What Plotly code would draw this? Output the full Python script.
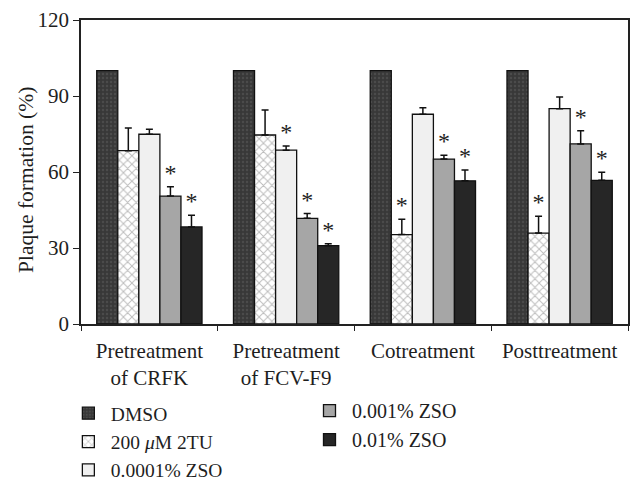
import plotly.graph_objects as go

categories = ["Pretreatment<br>of CRFK", "Pretreatment<br>of FCV-F9", "Cotreatment", "Posttreatment"]
series_names = ["DMSO", "200 <i>μ</i>M 2TU", "0.0001% ZSO", "0.001% ZSO", "0.01% ZSO"]
y_title = "Plaque formation (%)"

dmso = [100, 100, 100, 100]
tu2 = [68.4, 74.6, 35.3, 35.9]
zso_0001 = [74.9, 68.6, 82.8, 85.0]
zso_001 = [50.5, 41.7, 65.1, 71.1]
zso_01 = [38.3, 30.9, 56.5, 56.7]

dmso_err = [0, 0, 0, 0]
tu2_err = [9.0, 9.9, 6.0, 6.6]
zso_0001_err = [2.0, 1.7, 2.6, 4.6]
zso_001_err = [3.7, 1.9, 1.5, 5.2]
zso_01_err = [4.6, 0.8, 4.3, 3.2]

# significance markers (1 = asterisk)
dmso_sig = [0, 0, 0, 0]
tu2_sig = [0, 0, 1, 1]
zso_0001_sig = [0, 1, 0, 0]
zso_001_sig = [1, 1, 1, 1]
zso_01_sig = [1, 1, 1, 1]

values = [dmso, tu2, zso_0001, zso_001, zso_01]
errors = [dmso_err, tu2_err, zso_0001_err, zso_001_err, zso_01_err]
sigs = [dmso_sig, tu2_sig, zso_0001_sig, zso_001_sig, zso_01_sig]

styles = [
    dict(color="#383838", pattern=dict(shape=".", fgcolor="#5e5e5e", bgcolor="#383838", size=4, solidity=0.3)),
    dict(color="white", pattern=dict(shape="x", fgcolor="#7a7a7a", bgcolor="white", size=6, solidity=0.3)),
    dict(color="#f0f0f0"),
    dict(color="#a6a6a6"),
    dict(color="#262626"),
]
legend_ids = ["legend", "legend", "legend", "legend2", "legend2"]

FONT = "Liberation Serif"
TXT = "#1e1e1e"
fig = go.Figure()

for i, name in enumerate(series_names):
    st = styles[i]
    marker = dict(color=st["color"], line=dict(color="#111", width=1.3))
    if "pattern" in st:
        marker["pattern"] = st["pattern"]
    fig.add_trace(go.Bar(
        x=categories, y=values[i], name=name, marker=marker,
        offsetgroup=str(i), legend=legend_ids[i],
        error_y=dict(type="data", array=errors[i], arrayminus=[0]*4, symmetric=False,
                     color="#111", thickness=1.5, width=3.5, visible=any(e > 0 for e in errors[i])),
    ))

for i, name in enumerate(series_names):
    ys = [v + e if s else None for v, e, s in zip(values[i], errors[i], sigs[i])]
    fig.add_trace(go.Scatter(
        x=categories, y=ys, mode="text", text=["*" if s else "" for s in sigs[i]],
        textposition="top center", textfont=dict(family=FONT, size=24, color=[TXT]*4),
        offsetgroup=str(i), showlegend=False, hoverinfo="skip", cliponaxis=False,
    ))

fig.update_layout(
    width=643, height=488,
    barmode="group", bargap=0.23, bargroupgap=0,
    scattermode="group", scattergap=0.23,
    plot_bgcolor="white", paper_bgcolor="white",
    margin=dict(l=73, r=23, t=12, b=172, autoexpand=False),
    font=dict(family=FONT, size=21, color=TXT),
    legend=dict(xref="container", yref="container", x=0.090, y=0.209,
                xanchor="left", yanchor="top", orientation="v",
                font=dict(family=FONT, size=19.5, color=TXT), tracegroupgap=0,
                itemwidth=35, bgcolor="rgba(0,0,0,0)"),
    legend2=dict(xref="container", yref="container", x=0.465, y=0.215,
                 xanchor="left", yanchor="top", orientation="v",
                 font=dict(family=FONT, size=20, color=TXT), tracegroupgap=0,
                 itemwidth=35, bgcolor="rgba(0,0,0,0)"),
    annotations=[dict(text=y_title, xref="paper", yref="paper", x=-0.1005, y=0.474,
                      xanchor="center", yanchor="middle", textangle=-90, showarrow=False,
                      font=dict(family=FONT, size=21.5, color=TXT))],
)
fig.update_xaxes(
    showline=True, linecolor="#222", linewidth=1.5, mirror=True,
    ticks="outside", tickson="boundaries", ticklen=5, tickcolor="#222",
    ticklabelstandoff=7,
    tickfont=dict(family=FONT, size=21, color=TXT), showgrid=False,
)
fig.update_yaxes(
    range=[0, 120], tickvals=[0, 30, 60, 90, 120],
    showline=True, linecolor="#222", linewidth=1.5, mirror=True,
    ticks="outside", ticklen=6, tickcolor="#222", showgrid=False, zeroline=False,
    tickfont=dict(family=FONT, size=21, color=TXT),
)

fig.write_html("out.html")
